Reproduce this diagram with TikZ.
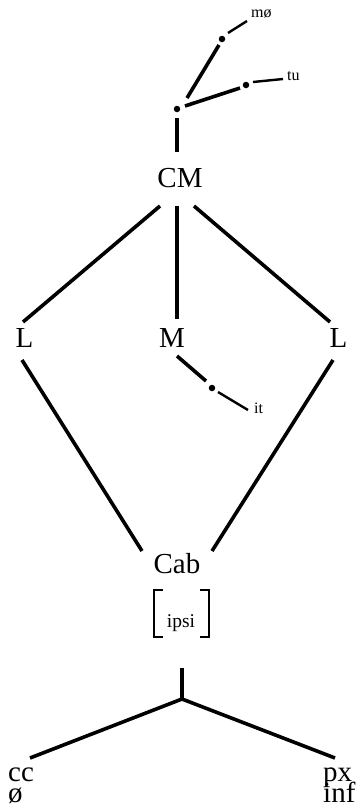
\documentclass[tikz,border=0pt]{standalone}
\usepackage{fontspec}
\setmainfont{Liberation Serif}
\newcommand\mytightlines{\fontsize{29}{21}\selectfont\lineskiplimit=-50pt\relax\lineskip=0pt\relax}
\begin{document}
\begin{tikzpicture}[x=1pt,y=-1pt,
  big/.style={font=\fontsize{29}{29}\selectfont,inner sep=0pt},
  stack/.style={font=\mytightlines,inner sep=0pt,align=left},
  small/.style={font=\fontsize{16}{16}\selectfont,inner sep=0pt},
  mid/.style={font=\fontsize{19.5}{19.5}\selectfont,inner sep=0pt},
  thickline/.style={line width=3.6pt},
  thinline/.style={line width=2.4pt},
  dot/.style={circle,fill=black,inner sep=0pt,minimum size=6.5pt}]
\useasboundingbox[fill=white] (0,0) rectangle (361,812);
% text nodes
\node[small,anchor=base west] (mo) at (251,17) {mø};
\node[small,anchor=base west] (tu) at (287,80) {tu};
\node[small,anchor=base west] (it) at (254,413) {it};
\node[big,anchor=base] (CM) at (180,187) {CM};
\node[big,anchor=base] (L1) at (24.5,347) {L};
\node[big,anchor=base] (M) at (172,347) {M};
\node[big,anchor=base] (L2) at (338.5,347) {L};
\node[big,anchor=base] (Cab) at (177,573) {Cab};
\node[mid,anchor=base] (ipsi) at (181,627) {ipsi};
\node[stack,anchor=base west] (ccoe) at (8,802) {cc\\ø};
\node[stack,anchor=base west] (pxinf) at (323,802) {px\\inf};
% dots
\node[dot] (d0) at (177,109) {};
\node[dot] (d1) at (246,85) {};
\node[dot] (d2) at (222,39) {};
\node[dot] (d3) at (212,388) {};
% top branch
\coordinate (cmtop) at (177,152);
\coordinate (s0) at (177,118);
\draw[thickline] (cmtop) -- (s0);
\draw[thickline] (185,106) coordinate (a1) -- (240,88) coordinate (a2);
\draw[thinline] (253,82) coordinate (b1) -- (283,79) coordinate (b2);
\draw[thickline] (187,98) coordinate (c1) -- (219,45) coordinate (c2);
\draw[thinline] (228,33) coordinate (e1) -- (247,21) coordinate (e2);
% CM to daughters
\draw[thickline] (160,206) coordinate (p1) -- (23,322) coordinate (q1);
\draw[thickline] (177,206) coordinate (p2) -- (177,319) coordinate (q2);
\draw[thickline] (194,206) coordinate (p3) -- (330,322) coordinate (q3);
% M to it
\draw[thickline] (177,356) coordinate (m1) -- (206,381) coordinate (m2);
\draw[thinline] (218,392) coordinate (m3) -- (248,410) coordinate (m4);
% L to Cab
\draw[thickline] (22,360) coordinate (l1) -- (142,551) coordinate (l2);
\draw[thickline] (333,360) coordinate (r1) -- (212,551) coordinate (r2);
% brackets
\draw[line width=2.6pt] (163,590) -- (154,590) -- (154,637) -- (163,637);
\draw[line width=2.6pt] (200,590) -- (209,590) -- (209,637) -- (200,637);
% bottom
\coordinate (top) at (182,668);
\coordinate (br) at (182,699);
\draw[thickline] (top) -- (br);
\draw[thickline] (br) -- (30,758) coordinate (bl);
\draw[thickline] (br) -- (335,758) coordinate (brr);
\end{tikzpicture}
\end{document}
